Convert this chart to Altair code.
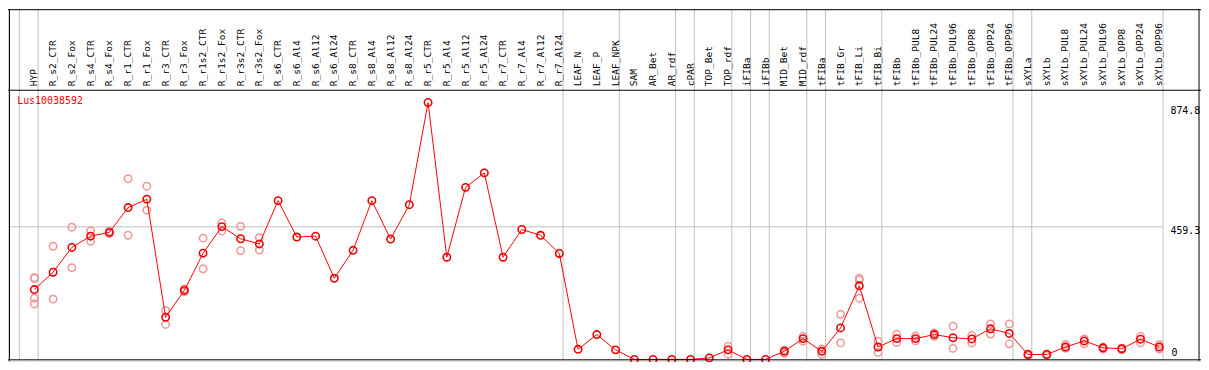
import altair as alt
import pandas as pd

# ---------------- data ----------------
labels = [
    "HYP", "R_s2_CTR", "R_s2_Fox", "R_s4_CTR", "R_s4_Fox", "R_r1_CTR", "R_r1_Fox",
    "R_r3_CTR", "R_r3_Fox", "R_r1s2_CTR", "R_r1s2_Fox", "R_r3s2_CTR", "R_r3s2_Fox",
    "R_s6_CTR", "R_s6_Al4", "R_s6_Al12", "R_s6_Al24", "R_s8_CTR", "R_s8_Al4",
    "R_s8_Al12", "R_s8_Al24", "R_r5_CTR", "R_r5_Al4", "R_r5_Al12", "R_r5_Al24",
    "R_r7_CTR", "R_r7_Al4", "R_r7_Al12", "R_r7_Al24", "LEAF_N", "LEAF_P", "LEAF_NPK",
    "SAM", "AR_Bet", "AR_rdf", "cPAR", "TOP_Bet", "TOP_rdf", "iFIBa", "iFIBb",
    "MID_Bet", "MID_rdf", "tFIBa", "tFIB_Gr", "tFIB_Li", "tFIB_Bi", "tFIBb",
    "tFIBb_PUL8", "tFIBb_PUL24", "tFIBb_PUL96", "tFIBb_OPP8", "tFIBb_OPP24",
    "tFIBb_OPP96", "sXYLa", "sXYLb", "sXYLb_PUL8", "sXYLb_PUL24", "sXYLb_PUL96",
    "sXYLb_OPP8", "sXYLb_OPP24", "sXYLb_OPP96",
]
means = [
    242, 302, 388, 427, 440, 526, 555, 146, 239, 368, 460, 418, 400,
    550, 424, 427, 281, 378, 550, 417, 536, 890, 354, 596, 646,
    354, 450, 430, 367, 35, 86, 33,
    0, 0, 0, 0, 5, 33, 0, 0, 28, 72, 28, 109, 255, 43,
    72, 72, 86, 75, 71, 106, 90,
    17, 17, 43, 64, 40, 37, 70, 43,
]
rep_idx = [0, 0, 0, 0, 1, 1, 2, 2, 3, 3, 4, 4, 5, 5, 6, 6, 7, 7, 8, 8, 9, 9,
           10, 10, 11, 11, 12, 12, 37, 37, 40, 40, 41, 41, 42, 42, 43, 43,
           44, 44, 44, 45, 45, 46, 46, 47, 47, 48, 48, 49, 49, 50, 50, 51, 51,
           52, 52, 53, 53, 54, 54, 55, 55, 56, 56, 57, 57, 58, 58, 59, 59, 60, 60]
rep_val = [283, 281, 212, 192, 392, 209, 458, 318, 445, 409, 444, 436, 626, 430,
           600, 517, 170, 121, 244, 234, 420, 314, 473, 445, 461, 377, 422, 379,
           46, 18, 32, 21, 80, 63, 17, 36, 156, 57, 281, 275, 212, 63, 24,
           87, 58, 81, 64, 92, 80, 115, 38, 83, 57, 123, 88, 123, 54,
           19, 14, 19, 14, 52, 38, 71, 54, 42, 36, 39, 33, 80, 57, 51, 36]
group_ends = [-1, 0, 28, 31, 34, 35, 37, 38, 39, 41, 42, 45, 52, 53, 60]
tick_values = [874.8, 459.3, 0]
gene = "Lus10038592"

# ---------------- layout ----------------
W, H = 1201, 354
SX, SY = W / 1209, H / 370
X0, DX = 26.7, 19.0          # reference pixel of first category, step
Y0, KY = 368.5, 0.3037       # reference pixel of zero, px per unit

xs = alt.Scale(domain=[(0 - X0) / DX, (1209 - X0) / DX], nice=False, zero=False)
ys = alt.Scale(domain=[(Y0 - 370) / KY, Y0 / KY], nice=False, zero=False)

df = pd.DataFrame({"idx": list(range(len(labels))), "label": labels, "value": means})
reps = pd.DataFrame({"idx": rep_idx, "value": rep_val})
seps = pd.DataFrame({"pos": [g + 0.2 for g in group_ends]})
ticks = pd.DataFrame({"v": tick_values, "t": ["874.8", "459.3", "0"]})
one = pd.DataFrame({"a": [0]})

GRAY = "#c0c0c0"
MONO = "DejaVu Sans Mono"

X = lambda f: alt.X(f, scale=xs, axis=None)
Y = lambda f: alt.Y(f, scale=ys, axis=None)

vsep = alt.Chart(seps).mark_rule(color=GRAY, strokeWidth=1).encode(
    x=X("pos:Q"), y=alt.value(0), y2=alt.value(H))

hgrid = alt.Chart(ticks).transform_filter(alt.datum.v == 459.3).mark_rule(
    color=GRAY, strokeWidth=1).encode(
    y=Y("v:Q"), x=alt.value(0), x2=alt.value(1170 * SX))

frame_h = alt.Chart(pd.DataFrame({"yy": [0.5, 85.3 * SY, H - 1]})).mark_rule(
    color="black", strokeWidth=1).encode(
    y=alt.Y("yy:Q", scale=None), x=alt.value(0), x2=alt.value(W))
frame_v = alt.Chart(pd.DataFrame({"xx": [1.5 * SX, 1207 * SX]})).mark_rule(
    color="black", strokeWidth=1).encode(
    x=alt.X("xx:Q", scale=None), y=alt.value(0), y2=alt.value(H))

head = alt.Chart(df).mark_text(
    angle=270, align="left", baseline="middle", font=MONO, fontSize=9.6,
    color="black").encode(x=X("idx:Q"), y=alt.value(81 * SY), text="label:N")

title = alt.Chart(one).mark_text(
    align="left", baseline="middle", font=MONO, fontSize=10, color="red").encode(
    x=alt.value(9.3 * SX), y=alt.value(97 * SY), text=alt.value(gene))

rep_pts = alt.Chart(reps).mark_point(
    shape="circle", filled=False, color="#f09494", size=55, strokeWidth=1.5,
    opacity=1).encode(x=X("idx:Q"), y=Y("value:Q"))

line = alt.Chart(df).mark_line(color="#ff0000", strokeWidth=1).encode(
    x=X("idx:Q"), y=Y("value:Q"), order="idx:Q")

mean_pts = alt.Chart(df).mark_point(
    shape="circle", filled=False, color="#ee0000", size=55, strokeWidth=1.6,
    opacity=1).encode(x=X("idx:Q"), y=Y("value:Q"))

tick_hi = alt.Chart(ticks).transform_filter(alt.datum.v > 0).mark_text(
    align="left", baseline="middle", font=MONO, fontSize=10, dy=4.3,
    color="black").encode(x=alt.value(1178 * SX), y=Y("v:Q"), text="t:N")
tick_lo = alt.Chart(ticks).transform_filter(alt.datum.v == 0).mark_text(
    align="left", baseline="middle", font=MONO, fontSize=10, dy=-6,
    color="black").encode(x=alt.value(1179 * SX), y=Y("v:Q"), text="t:N")

chart = alt.layer(
    vsep, hgrid, rep_pts, line, mean_pts, head, title, tick_hi, tick_lo,
    frame_h, frame_v,
).properties(width=W, height=H, padding=0, autosize=alt.AutoSizeParams(type="none")
).configure_view(stroke=None).configure(background="white")

chart.save("out.html", embed_options={"renderer": "svg", "actions": False})
